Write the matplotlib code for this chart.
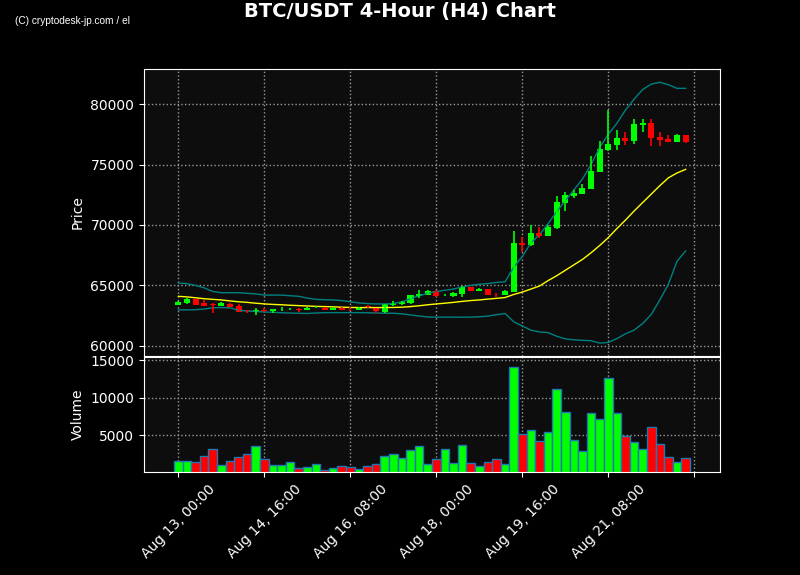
import numpy as np
import matplotlib
matplotlib.use("Agg")
import matplotlib.pyplot as plt

# 4h candles, 60 bars starting Aug 13 00:00
opens = [63390, 63560, 63880, 63530, 63450, 63330, 63500, 63330, 62980, 62810,
         63000, 62880, 63040, 63040, 63070, 63000, 63190, 63170, 63000, 63170,
         63050, 63000, 63270, 63110, 62840, 63390, 63470, 63580, 64130, 64210,
         64570, 64190, 64130, 64320, 64880, 64550, 64710, 64300, 64210, 64490,
         68490, 68350, 69340, 69120, 69780, 71840, 72400, 72590, 73000, 74400,
         76220, 76640, 77190, 76940, 78300, 78430, 77270, 77110, 76890, 77440]
highs = [63700, 63950, 63900, 63800, 63580, 63640, 63570, 63470, 63000, 63150,
         63100, 63080, 63220, 63150, 63100, 63230, 63260, 63220, 63230, 63220,
         63200, 63230, 63360, 63150, 63490, 63690, 63720, 64230, 64630, 64600,
         64600, 64320, 64420, 64980, 64900, 64750, 64730, 64410, 64600, 69500,
         68980, 69970, 69860, 69970, 72400, 72750, 72890, 73360, 75730, 76920,
         79500, 77820, 77660, 78730, 78790, 78790, 77690, 77420, 77520, 77440]
lows = [63350, 63470, 63390, 63330, 62760, 63300, 63220, 62840, 62700, 62540,
        62780, 62730, 62900, 62980, 62810, 62950, 63130, 62980, 62960, 62980,
        62920, 62970, 63170, 62700, 62700, 63320, 63400, 63500, 63940, 64180,
        64020, 64150, 64050, 64020, 64520, 64500, 64180, 64080, 64180, 64450,
        67790, 68300, 68900, 69080, 69700, 71130, 72210, 72540, 72950, 74350,
        76140, 76170, 76590, 76720, 77690, 76510, 76510, 76870, 76870, 76750]
closes = [63610, 63880, 63390, 63330, 63420, 63530, 63250, 62840, 62900, 62980,
          62890, 63060, 63070, 63070, 62980, 63170, 63210, 63000, 63170, 63000,
          63020, 63170, 63230, 62860, 63450, 63550, 63660, 64210, 64300, 64570,
          64160, 64210, 64380, 64850, 64550, 64710, 64210, 64270, 64570, 68540,
          68380, 69340, 69090, 69830, 71880, 72480, 72640, 73060, 74460, 76280,
          76670, 77190, 76940, 78350, 78430, 77210, 77050, 76890, 77440, 76890]
volumes = [1530, 1530, 1440, 2240, 3130, 1000, 1530, 2060, 2510, 3570,
           1790, 1080, 1080, 1400, 600, 730, 1130, 420, 600, 870,
           730, 550, 870, 1130, 2200, 2470, 1930, 3000, 3530, 1130,
           1800, 3130, 1270, 3670, 1270, 870, 1400, 1800, 1130, 14070,
           5130, 5670, 4200, 5400, 11130, 8070, 4330, 2870, 7930, 7130,
           12600, 7930, 4900, 4070, 3130, 6070, 3800, 2070, 1400, 1930]

# Bollinger bands / middle line
bb_upper = [65200, 65150, 65000, 64800, 64500, 64400, 64400, 64400, 64350, 64300,
            64200, 64200, 64200, 64150, 64100, 63950, 63850, 63820, 63800, 63750,
            63650, 63550, 63500, 63470, 63470, 63500, 63650, 63900, 64150, 64350,
            64500, 64600, 64700, 64880, 65000, 65100, 65150, 65250, 65300, 66500,
            67400, 68500, 69200, 70100, 71100, 72000, 72900, 73800, 75000, 76400,
            77500, 78400, 79500, 80400, 81200, 81650, 81800, 81600, 81300, 81300]
bb_mid = [64100, 64050, 63980, 63900, 63850, 63800, 63720, 63650, 63600, 63530,
          63470, 63430, 63400, 63360, 63330, 63300, 63270, 63250, 63230, 63200,
          63180, 63170, 63170, 63170, 63170, 63180, 63200, 63250, 63320, 63400,
          63470, 63530, 63600, 63680, 63750, 63800, 63870, 63930, 64000, 64250,
          64450, 64700, 64950, 65400, 65800, 66250, 66700, 67150, 67700, 68300,
          68950, 69700, 70400, 71150, 71850, 72550, 73250, 73900, 74300, 74600]
bb_lower = [62980, 62980, 62990, 63050, 63150, 63170, 63150, 62950, 62880, 62850,
            62800, 62780, 62740, 62720, 62700, 62680, 62720, 62750, 62750, 62750,
            62750, 62750, 62740, 62720, 62700, 62700, 62650, 62560, 62470, 62390,
            62370, 62380, 62380, 62370, 62380, 62410, 62460, 62580, 62680, 62000,
            61650, 61300, 61150, 61100, 60800, 60580, 60500, 60460, 60430, 60230,
            60280, 60600, 61000, 61300, 61850, 62600, 63800, 65100, 67000, 67850]

tick_pos = [0, 10, 20, 30, 40, 50, 60]
tick_labels = ["Aug 13, 00:00", "Aug 14, 16:00", "Aug 16, 08:00", "Aug 18, 00:00",
               "Aug 19, 16:00", "Aug 21, 08:00", ""]

x = np.arange(len(closes))
up = np.array(closes) >= np.array(opens)
colors = np.where(up, "#00ff00", "#ff0000")

fig = plt.figure(figsize=(8, 5.75), dpi=100, facecolor="black")
ax = fig.add_axes([0.18, 0.381, 0.72, 0.499])
axv = fig.add_axes([0.18, 0.179, 0.72, 0.2], sharex=ax)

for a in (ax, axv):
    a.set_facecolor("#0d0d0d")
    for s in a.spines.values():
        s.set_color("white")
    a.tick_params(colors="white", labelsize=10)
    a.grid(True, linestyle=":", color="#999999", linewidth=1)
    a.set_axisbelow(True)

# bands
ax.plot(x, bb_upper, color="teal", lw=1)
ax.plot(x, bb_lower, color="teal", lw=1)
ax.plot(x, bb_mid, color="yellow", lw=1)

# candles
ax.vlines(x, lows, highs, colors=colors, lw=1.2)
body_h = np.abs(np.array(closes) - np.array(opens))
body_h = np.maximum(body_h, 25)
ax.bar(x, body_h, bottom=np.minimum(opens, closes), width=0.7, color=colors)

ax.set_ylim(59170, 82900)
ax.set_yticks([60000, 65000, 70000, 75000, 80000])
ax.set_ylabel("Price", color="white", fontsize=10)
ax.tick_params(labelbottom=False)

axv.bar(x, volumes, width=1.0, color=colors, edgecolor="#1f77b4", linewidth=1)
axv.set_ylim(100, 15400)
axv.set_yticks([5000, 10000, 15000])
axv.set_ylabel("Volume", color="white", fontsize=10)

axv.set_xlim(-4, 63)
axv.set_xticks(tick_pos)
axv.set_xticklabels(tick_labels, rotation=45)

fig.text(0.5, 1 - 12 / 575, "BTC/USDT 4-Hour (H4) Chart", color="white",
         fontsize=14, fontweight="bold", ha="center", va="center")
fig.text(15 / 800, 1 - 21 / 575, "(C) cryptodesk-jp.com / el", color="white",
         fontsize=7.3, family="Liberation Sans", ha="left", va="center")

fig.savefig("out.png", dpi=100, facecolor="black")
